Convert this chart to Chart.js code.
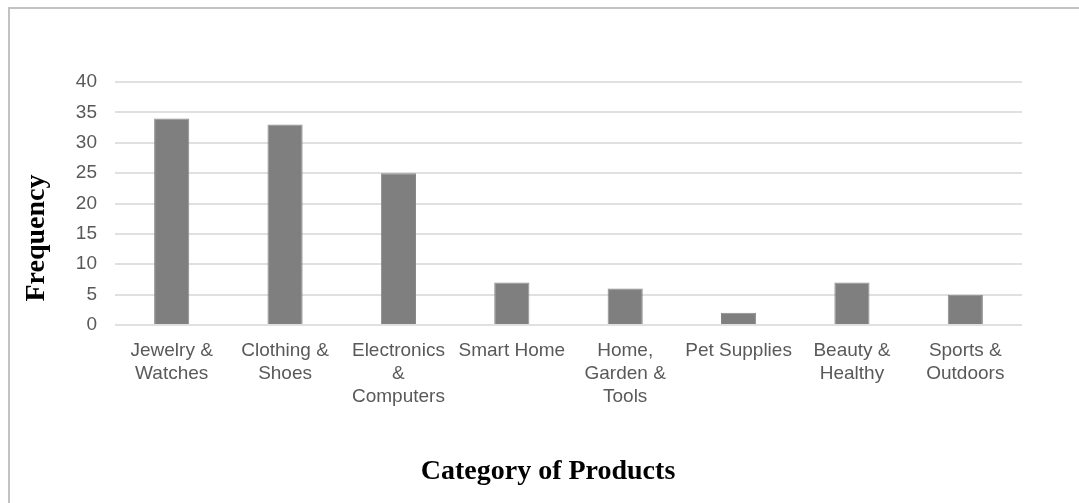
<!DOCTYPE html>
<html>
<head>
<meta charset="utf-8">
<script src="https://cdn.jsdelivr.net/npm/chart.js@4"></script>
<style>
  html, body { margin: 0; padding: 0; background: #fff; }
  #marco { position: absolute; left: 8px; top: 7px; width: 1071px; height: 496px;
           border-top: 2px solid #c2c2c2; border-left: 2px solid #c2c2c2; box-sizing: border-box; }
  #grafico { position: absolute; left: 0; top: 0; }
</style>
</head>
<body>
<div id="marco"></div>
<canvas id="grafico" width="1079" height="503"></canvas>
<script>
// datos
const categorias = [
  ["Jewelry &", "Watches"],
  ["Clothing &", "Shoes"],
  ["Electronics", "&", "Computers"],
  "Smart Home",
  ["Home,", "Garden &", "Tools"],
  "Pet Supplies",
  ["Beauty &", "Healthy"],
  ["Sports &", "Outdoors"]
];
const frecuencias = [34, 33, 25, 7, 6, 2, 7, 5];
const ticksY = [0, 5, 10, 15, 20, 25, 30, 35, 40];
const tituloX = "Category of Products";
const tituloY = "Frequency";

const fuenteEje = { family: "'Liberation Sans', Arial, sans-serif", size: 19, lineHeight: 1.21 };
const fuenteTitulo = "bold 28px 'Liberation Serif', 'Times New Roman', serif";

// los títulos de los ejes no están centrados en el área del gráfico, se dibujan aparte
const titulos = {
  id: "titulos",
  afterDraw(chart) {
    const c = chart.ctx;
    c.save();
    c.font = fuenteTitulo;
    c.fillStyle = "#000";
    c.textAlign = "center";
    c.textBaseline = "middle";
    c.fillText(tituloX, 548, 472);
    c.translate(37, 238);
    c.rotate(-Math.PI / 2);
    c.fillText(tituloY, 0, 0);
    c.restore();
  }
};

const ctx = document.getElementById("grafico");

new Chart(ctx, {
  type: "bar",
  data: {
    labels: categorias,
    datasets: [{
      data: frecuencias,
      backgroundColor: "#7f7f7f",
      borderColor: "#8a8a8a",
      borderWidth: 1,
      categoryPercentage: 1,
      barPercentage: 0.31
    }]
  },
  options: {
    responsive: false,
    animation: false,
    layout: { padding: { top: 82, right: 57, left: 10, bottom: 0 } },
    plugins: { legend: { display: false }, tooltip: { enabled: false } },
    scales: {
      x: {
        grid: { display: false },
        border: { display: false },
        ticks: { color: "#595959", font: fuenteEje, padding: 6, maxRotation: 0, autoSkip: false },
        afterFit: s => { s.height = 178; }
      },
      y: {
        min: 0,
        max: 40,
        afterBuildTicks: s => { s.ticks = ticksY.map(v => ({ value: v })); },
        grid: { color: "#e0e0e0", lineWidth: 2, drawTicks: false },
        border: { display: false },
        ticks: { color: "#595959", font: fuenteEje, padding: 18 },
        afterFit: s => { s.width = 105; }
      }
    }
  },
  plugins: [titulos]
});
</script>
</body>
</html>
